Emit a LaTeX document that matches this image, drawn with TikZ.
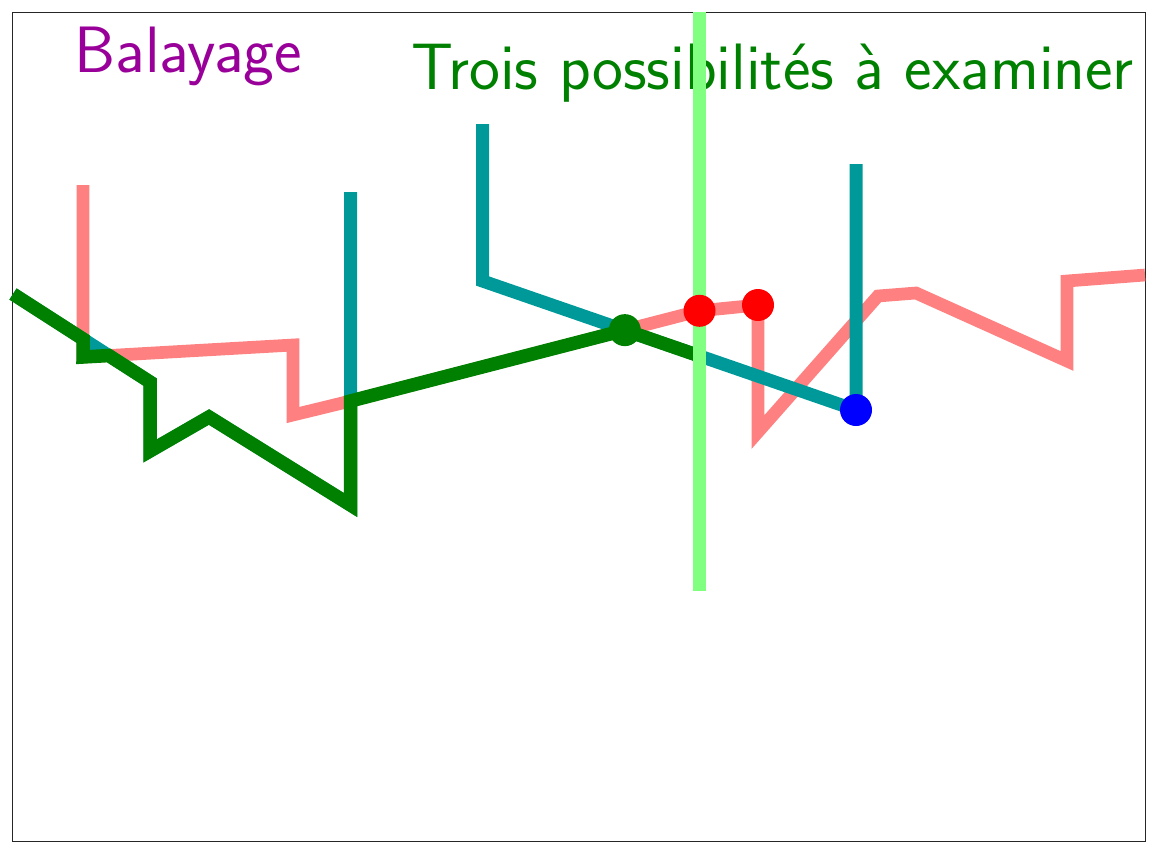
\documentclass[tikz,border=0pt]{standalone}
\usetikzlibrary{calc}
\definecolor{pinkline}{RGB}{255,128,128}
\definecolor{tealline}{RGB}{0,153,153}
\definecolor{envgreen}{RGB}{0,128,0}
\definecolor{sweepgreen}{RGB}{128,255,128}
\definecolor{titlepurple}{RGB}{153,0,153}
\tikzset{
  pinkpath/.style={draw=pinkline,line width=12.7pt},
  tealpath/.style={draw=tealline,line width=13pt},
  envpath/.style={draw=envgreen,line width=13.5pt},
  sweeppath/.style={draw=sweepgreen,line width=12.7pt},
  dotmark/.style={circle,inner sep=0pt,minimum size=32pt,fill=#1},
  titletext/.style={font=\fontsize{65.6}{72}\selectfont\sffamily,inner sep=0pt,anchor=base west},
}
\begin{document}
\begin{tikzpicture}[x=1pt,y=-1pt]
\useasboundingbox (0,0) rectangle (1159,843);
\draw[line width=1pt,black!85] (12.5,12.5) rectangle (1145.5,841.5);
% titles
\node[titletext,text=titlepurple] (balayage) at (74.3,72.7) {Balayage};
\node[titletext,text=envgreen] (trois) at (411.3,89.3) {Trois possibilités à examiner};
% pink chain
\coordinate (P0) at (83,185);
\coordinate (P1) at (83,357);
\coordinate (P2) at (293,345);
\coordinate (P3) at (293,415);
\coordinate (P4) at (350.5,401);
\coordinate (P5) at (699.5,310.8);
\coordinate (P6) at (758,305);
\coordinate (P7) at (758,432);
\coordinate (P8) at (878,296);
\coordinate (P9) at (916,293);
\coordinate (P10) at (1067,361);
\coordinate (P11) at (1067,281);
\coordinate (P12) at (1145,275);
% teal chain 1
\coordinate (T0) at (13,294);
\coordinate (T1) at (150,382);
\coordinate (T2) at (150,451);
\coordinate (T3) at (209,417);
\coordinate (T4) at (350.5,505);
\coordinate (T5) at (350.5,192);
% teal chain 2
\coordinate (U0) at (482.5,124);
\coordinate (U1) at (482.5,281);
\coordinate (U2) at (856,410);
\coordinate (U3) at (856,164);
% sweep line
\coordinate (W0) at (699.5,12.5);
\coordinate (W1) at (699.5,591);
% intersections
\coordinate (X1) at (intersection of T0--T1 and P0--P1);
\coordinate (X2) at (intersection of T0--T1 and P1--P2);
\coordinate (G) at (intersection of P4--P5 and U1--U2);
\coordinate (S) at (intersection of U1--U2 and W0--W1);
% drawing
\draw[pinkpath] (P0) -- (P1) -- (P2) -- (P3) -- (P4) -- (P5) -- (P6) -- (P7) -- (P8) -- (P9) -- (P10) -- (P11) -- (P12);
\draw[tealpath] (T0) -- (T1) -- (T2) -- (T3) -- (T4) -- (T5);
\draw[tealpath] (U0) -- (U1) -- (U2) -- (U3);
\draw[envpath] (T0) -- (X1) -- (P1) -- (X2) -- (T1) -- (T2) -- (T3) -- (T4) -- (P4) -- (G) -- (S);
\draw[sweeppath] (W0) -- (W1);
\node[dotmark=envgreen] (gdot) at (G) {};
\node[dotmark=red] (rdota) at (P5) {};
\node[dotmark=red] (rdotb) at (P6) {};
\node[dotmark=blue] (bdot) at (U2) {};
\end{tikzpicture}
\end{document}
